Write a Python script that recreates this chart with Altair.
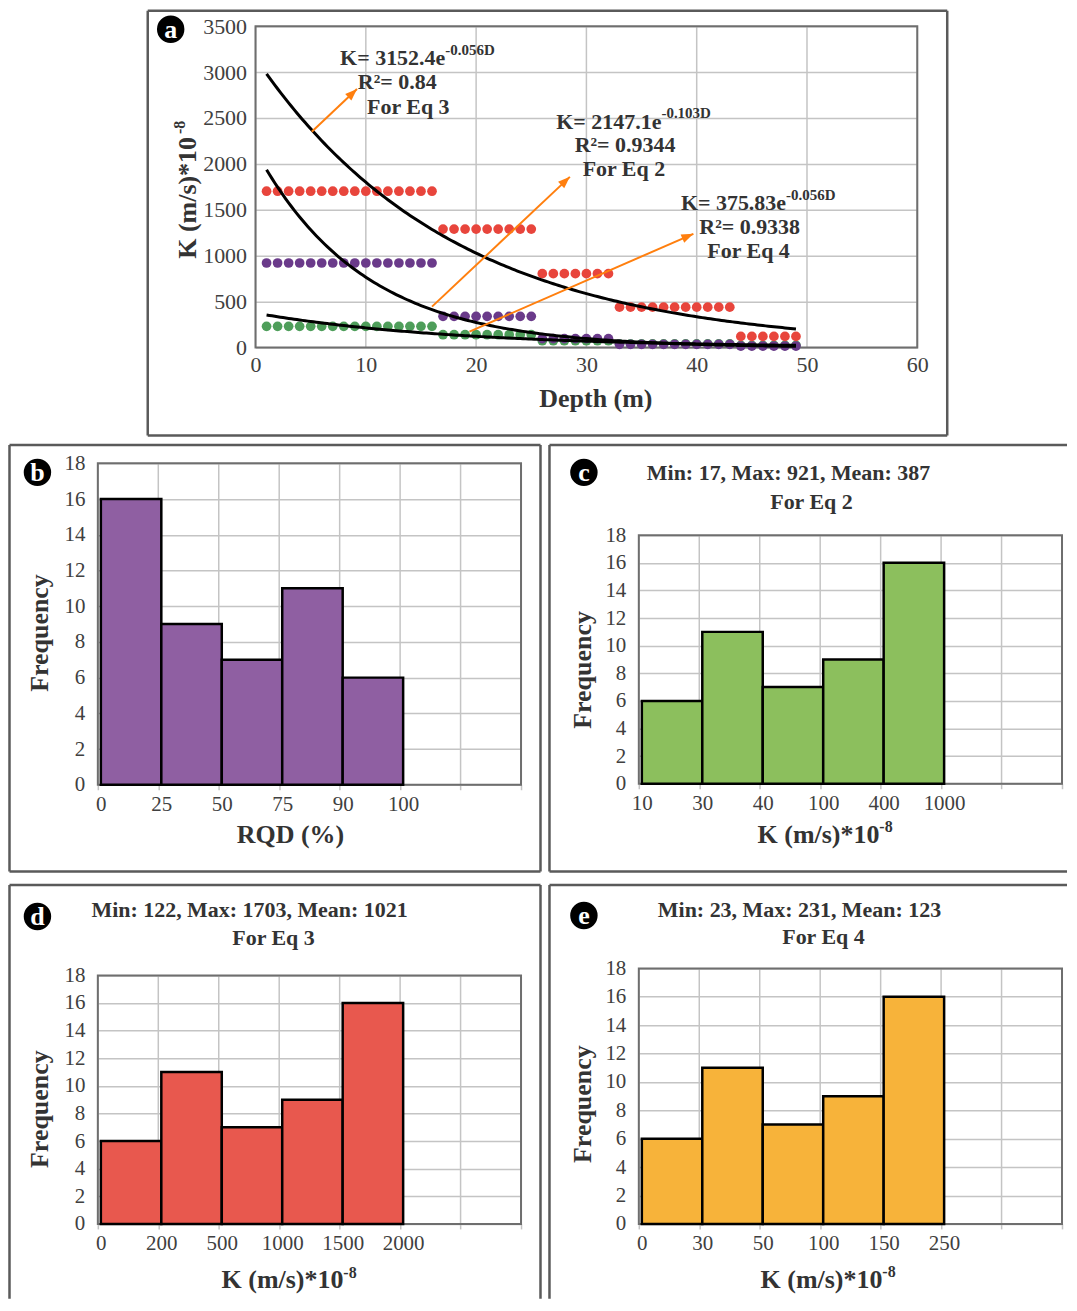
import json
import math
import altair as alt
import pandas as pd

FONT = "Liberation Serif"
INK = "#333333"
LABEL = "#404040"
GRID = "#C4C4C4"
FRAME = "#5A5A5A"
PLOTFRAME = "#6E6E6E"
ORANGE = "#FF7F0E"

# ---------------- Panel a data ----------------
depth = list(range(1, 50))
k_eq3 = [1703] * 16 + [1290] * 9 + [805] * 7 + [440] * 11 + [122] * 6
k_eq2 = [921] * 16 + [340] * 9 + [98] * 7 + [35] * 11 + [17] * 6
k_eq4 = [231] * 16 + [140] * 9 + [75] * 7 + [40] * 11 + [23] * 6
colors_eq = {"eq3": "#E8453C", "eq2": "#6A3A8A", "eq4": "#4E9E5A"}
depth_ticks = [0, 10, 20, 30, 40, 50, 60]
k_ticks = [0, 500, 1000, 1500, 2000, 2500, 3000, 3500]

fit_a = [3152.4, 2147.1, 375.83]
fit_b = [-0.056, -0.103, -0.056]

arrow_x1 = [5.1, 16.0, 19.4]
arrow_y1 = [2350, 446, 174]
arrow_x2 = [9.2, 28.5, 39.7]
arrow_y2 = [2815, 1859, 1239]

eq_main = ["K= 3152.4e", "K= 2147.1e", "K= 375.83e"]
eq_sup = ["-0.056D", "-0.103D", "-0.056D"]
eq_r2 = ["R\u00b2= 0.84", "R\u00b2= 0.9344", "R\u00b2= 0.9338"]
eq_for = ["For Eq 3", "For Eq 2", "For Eq 4"]
main_x = [17.2, 36.8, 48.1]
main_y = [3152, 2460, 1579]
sup_y = [3245, 2550, 1665]
r2_x = [12.85, 33.5, 44.8]
r2_y = [2891, 2207, 1318]
for_x = [13.85, 33.4, 44.7]
for_y = [2620, 1946, 1047]

# ---------------- Histogram data ----------------
rqd_labels = ["0", "25", "50", "75", "90", "100"]
rqd_freq = [16, 9, 7, 11, 6]
eq2_labels = ["10", "30", "40", "100", "400", "1000"]
eq2_freq = [6, 11, 7, 9, 16]
eq3_labels = ["0", "200", "500", "1000", "1500", "2000"]
eq3_freq = [6, 11, 7, 9, 16]
eq4_labels = ["0", "30", "50", "100", "150", "250"]
eq4_freq = [6, 11, 7, 9, 16]
freq_ticks = [0, 2, 4, 6, 8, 10, 12, 14, 16, 18]
bin_slots = [0, 1, 2, 3, 4, 5, 6, 7]

ONE = alt.Data(values=[{}])


def px_text(text, x, y, size, bold=True, color=INK, align="center", angle=0):
    return alt.Chart(ONE).mark_text(
        text=text, fontSize=size, font=FONT,
        fontWeight="bold" if bold else "normal", color=color,
        align=align, baseline="middle", angle=angle,
    ).encode(x=alt.value(x), y=alt.value(y))


def px_rule(x1, y1, x2, y2, color=FRAME, width=2.5, opacity=1.0):
    return alt.Chart(ONE).mark_rule(color=color, strokeWidth=width, opacity=opacity).encode(
        x=alt.value(x1), y=alt.value(y1), x2=alt.value(x2), y2=alt.value(y2))


def px_box(x1, y1, x2, y2, color=PLOTFRAME, width=2):
    return alt.Chart(ONE).mark_rect(filled=False, stroke=color, strokeWidth=width).encode(
        x=alt.value(x1), y=alt.value(y1), x2=alt.value(x2), y2=alt.value(y2))


def frame(x1, y1, x2, y2, sides):
    out = []
    if "l" in sides:
        out.append(px_rule(x1, y1, x1, y2))
    if "r" in sides:
        out.append(px_rule(x2, y1, x2, y2))
    if "t" in sides:
        out.append(px_rule(x1, y1, x2, y1))
    if "b" in sides:
        out.append(px_rule(x1, y2, x2, y2))
    return out


def badge(letter, x, y):
    dot = alt.Chart(ONE).mark_point(shape="circle", filled=True, size=755, color="black", opacity=1).encode(
        x=alt.value(x), y=alt.value(y))
    return [dot, px_text(letter, x, y + 1, 26, color="white")]


# ---------------- Panel a ----------------
A_VW, A_FULLH = 1061, 430
A_PX = (248, 911)
A_PY = (17, 339)
xs_a = alt.Scale(domain=[0, 60], nice=False, range=[A_PX[0], A_PX[1]])
ys_a = alt.Scale(domain=[0, 3500], nice=False, range=[A_PY[1], A_PY[0]])

axis_xa = alt.Axis(values=depth_ticks, title=None, labelFontSize=22, format="d",
                   labelPadding=7, labelFlush=False, grid=False)
axis_ya = alt.Axis(values=k_ticks, title=None, labelFontSize=22, format="d",
                   labelPadding=9, grid=True, offset=-A_PX[0])


def XA(field):
    return alt.X(field, scale=xs_a, axis=axis_xa)


def YA(field):
    return alt.Y(field, scale=ys_a, axis=axis_ya)


def series_layer(values, color):
    df = pd.DataFrame({"D": depth, "K": values})
    return alt.Chart(df).mark_circle(size=95, opacity=1, color=color).encode(
        x=XA("D:Q"), y=YA("K:Q"))


def curve(a, b):
    return alt.Chart(alt.sequence(1, 49.01, 0.25, as_="D")).transform_calculate(
        K=f"{a}*exp({b}*datum.D)"
    ).mark_line(color="black", strokeWidth=3).encode(x=XA("D:Q"), y=YA("K:Q"))


a_pw = A_PX[1] - A_PX[0]
a_ph = A_PY[1] - A_PY[0]
arrows = pd.DataFrame({"x1": arrow_x1, "y1": arrow_y1, "x2": arrow_x2, "y2": arrow_y2})
arrows["angle"] = [
    math.degrees(math.atan2((r.x2 - r.x1) * a_pw / 60.0, (r.y2 - r.y1) * a_ph / 3500.0))
    for r in arrows.itertuples()
]
arrow_lines = alt.Chart(arrows).mark_rule(color=ORANGE, strokeWidth=2).encode(
    x=XA("x1:Q"), y=YA("y1:Q"), x2="x2:Q", y2="y2:Q")
arrow_heads = alt.Chart(arrows).mark_point(
    shape="M0,0L-0.6,1.6L0.6,1.6Z", filled=True, size=225, color=ORANGE, opacity=1
).encode(x=XA("x2:Q"), y=YA("y2:Q"), angle=alt.Angle("angle:Q", scale=None))

ann = pd.DataFrame({
    "main": eq_main, "sup": eq_sup, "r2": eq_r2, "for": eq_for,
    "mx": main_x, "my": main_y, "sy": sup_y, "rx": r2_x, "ry": r2_y, "fx": for_x, "fy": for_y,
})


def ann_layer(text_field, xf, yf, size, align):
    return alt.Chart(ann).mark_text(font=FONT, fontWeight="bold", fontSize=size, color=INK,
                                    align=align, baseline="middle").encode(
        x=XA(f"{xf}:Q"), y=YA(f"{yf}:Q"), text=f"{text_field}:N")


a_vgrid = alt.Chart(pd.DataFrame({"g": depth_ticks})).mark_rule(color=GRID, strokeWidth=1.5).encode(
    x=XA("g:Q"), y=alt.value(A_PY[0]), y2=alt.value(A_PY[1]))

a_layers = [a_vgrid, px_box(A_PX[0], A_PY[0], A_PX[1], A_PY[1])]
a_layers += [
    series_layer(k_eq4, colors_eq["eq4"]),
    series_layer(k_eq2, colors_eq["eq2"]),
    series_layer(k_eq3, colors_eq["eq3"]),
]
a_layers += [curve(a, b) for a, b in zip(fit_a, fit_b)]
a_layers += [arrow_lines, arrow_heads]
a_layers += [
    ann_layer("main", "mx", "my", 22, "right"),
    ann_layer("sup", "mx", "sy", 15, "left"),
    ann_layer("r2", "rx", "ry", 22, "center"),
    ann_layer("for", "fx", "fy", 22, "center"),
]
a_layers += [
    px_text("K (m/s)*10", 180, 128, 26, align="right", angle=270),
    px_text("-8", 172, 125, 16, align="left", angle=270),
    px_text("Depth (m)", 589, 391, 26),
]
a_layers += badge("a", 163, 20)
a_layers += frame(140, 1.5, 941, 427, "ltrb")
a_layers.append(px_rule(0, 0, A_VW, A_FULLH, opacity=0))
panel_a = alt.layer(*a_layers).properties(width=A_VW, height=A_PY[1])


# ---------------- Histograms ----------------
def hist_panel(labels, freqs, color, vw, fullh, px, py, letter, letter_xy, freq_xy,
               xtitle, xtitle_xy, sup_xy, titles, box, sides):
    df = pd.DataFrame({"bin": list(range(len(freqs))), "freq": freqs})
    xs = alt.Scale(domain=[0, 7], nice=False, range=[px[0], px[1]])
    ys = alt.Scale(domain=[0, 18], nice=False, range=[py[1], py[0]])
    expr = json.dumps(labels) + "[datum.value] || ''"
    x_axis = alt.Axis(values=bin_slots, labelExpr=expr, title=None, labelFontSize=21,
                      labelPadding=4, labelFlush=False, grid=False, labelOffset=3,
                      ticks=True, tickSize=5, tickColor=GRID, tickWidth=1.5)
    y_axis = alt.Axis(values=freq_ticks, title=None, labelFontSize=21, labelPadding=13,
                      grid=True, offset=-px[0])
    vgrid = alt.Chart(pd.DataFrame({"g": bin_slots})).mark_rule(color=GRID, strokeWidth=1.5).encode(
        x=alt.X("g:Q", scale=xs, axis=x_axis), y=alt.value(py[0]), y2=alt.value(py[1]))
    bars = alt.Chart(df).transform_calculate(
        lo="datum.bin + 0.05", hi="datum.bin + 1.05"
    ).mark_rect(fill=color, stroke="black", strokeWidth=2.5, opacity=1).encode(
        x=alt.X("lo:Q", scale=xs, axis=x_axis),
        x2="hi:Q",
        y=alt.Y("freq:Q", scale=ys, axis=y_axis),
        y2=alt.datum(0),
    )
    layers = [vgrid, px_box(px[0], py[0], px[1], py[1]), bars]
    layers.append(px_text("Frequency", freq_xy[0], freq_xy[1], 26, angle=270))
    if sup_xy is None:
        layers.append(px_text(xtitle, xtitle_xy[0], xtitle_xy[1], 26))
    else:
        layers.append(px_text(xtitle, xtitle_xy[0], xtitle_xy[1], 26, align="right"))
        layers.append(px_text("-8", sup_xy[0], sup_xy[1], 16, align="left"))
    for t, (tx, ty) in titles:
        layers.append(px_text(t, tx, ty, 22))
    layers += badge(letter, letter_xy[0], letter_xy[1])
    layers += frame(box[0], box[1], box[2], box[3], sides)
    layers.append(px_rule(0, 0, vw, fullh, opacity=0))
    return alt.layer(*layers).properties(width=vw, height=py[1])


panel_b = hist_panel(
    rqd_labels, rqd_freq, "#8F5FA2", 536, 436, (90, 514), (20, 342), "b", (29.5, 29), (32, 190),
    "RQD (%)", (283, 392), None, [], (1.5, 1.5, 533.5, 429), "ltrb")
panel_c = hist_panel(
    eq2_labels, eq2_freq, "#8CBF5D", 520, 436, (91, 515), (92, 341), "c", (36, 29), (35, 227),
    "K (m/s)*10", (332, 392), (332, 384),
    [("Min: 17, Max: 921, Mean: 387", (241, 30)), ("For Eq 2", (264, 59))],
    (1.5, 1.5, 520, 429), "ltb")
panel_d = hist_panel(
    eq3_labels, eq3_freq, "#E8584E", 536, 416, (90, 514), (92, 341), "d", (29.5, 33), (32, 226),
    "K (m/s)*10", (336, 397), (336, 390),
    [("Min: 122, Max: 1703, Mean: 1021", (242, 26)), ("For Eq 3", (266, 55))],
    (1.5, 1.5, 533.5, 416), "ltr")
panel_e = hist_panel(
    eq4_labels, eq4_freq, "#F7B33A", 520, 416, (91, 515), (85, 341), "e", (36, 32), (35, 221),
    "K (m/s)*10", (335, 397), (335, 389),
    [("Min: 23, Max: 231, Mean: 123", (252, 26)), ("For Eq 4", (276, 54))],
    (1.5, 1.5, 520, 416), "lt")

row1 = alt.concat(panel_b, panel_c, columns=2, align="each", spacing=5)
row2 = alt.concat(panel_d, panel_e, columns=2, align="each", spacing=5)
chart = alt.concat(panel_a, row1, row2, columns=1, align="each", spacing=5).properties(
    padding=0
).configure_view(
    stroke="transparent", strokeWidth=0
).configure_axis(
    gridColor=GRID, gridWidth=1.5, labelFont=FONT, labelColor=LABEL, ticks=False, domain=False
)

chart.save("out.html", embed_options={"renderer": "svg", "actions": False})
